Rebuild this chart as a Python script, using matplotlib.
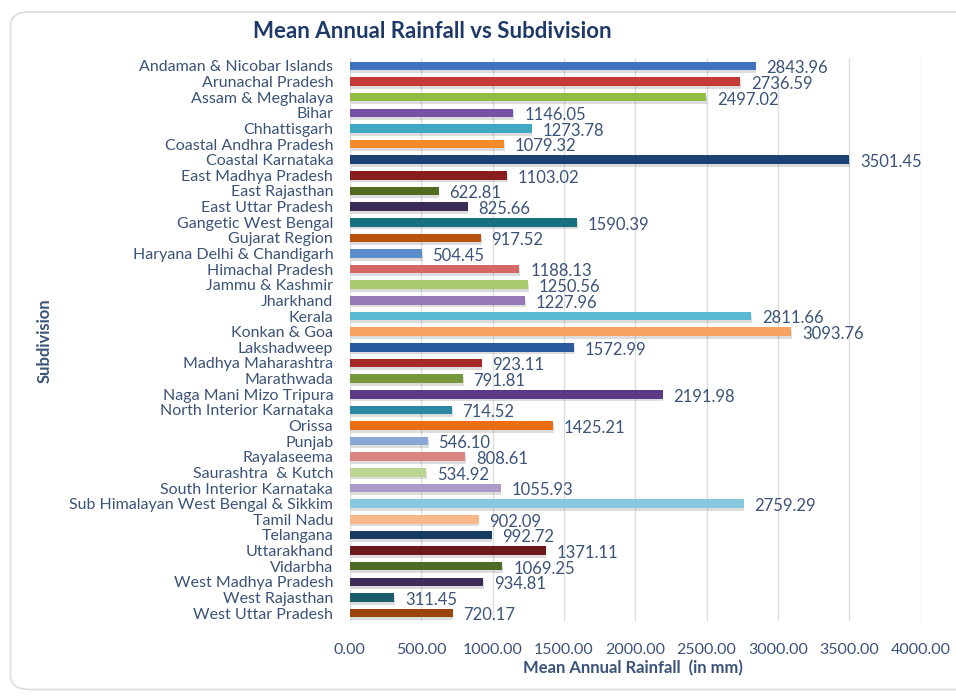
import matplotlib
matplotlib.use("Agg")
import matplotlib.pyplot as plt
import matplotlib.patheffects as pe
from matplotlib.patches import FancyBboxPatch

subdivisions = [
    "Andaman & Nicobar Islands", "Arunachal Pradesh", "Assam & Meghalaya", "Bihar",
    "Chhattisgarh", "Coastal Andhra Pradesh", "Coastal Karnataka", "East Madhya Pradesh",
    "East Rajasthan", "East Uttar Pradesh", "Gangetic West Bengal", "Gujarat Region",
    "Haryana Delhi & Chandigarh", "Himachal Pradesh", "Jammu & Kashmir", "Jharkhand",
    "Kerala", "Konkan & Goa", "Lakshadweep", "Madhya Maharashtra",
    "Marathwada", "Naga Mani Mizo Tripura", "North Interior Karnataka", "Orissa",
    "Punjab", "Rayalaseema", "Saurashtra  & Kutch", "South Interior Karnataka",
    "Sub Himalayan West Bengal & Sikkim", "Tamil Nadu", "Telangana", "Uttarakhand",
    "Vidarbha", "West Madhya Pradesh", "West Rajasthan", "West Uttar Pradesh",
]
rainfall = [
    2843.96, 2736.59, 2497.02, 1146.05, 1273.78, 1079.32, 3501.45, 1103.02,
    622.81, 825.66, 1590.39, 917.52, 504.45, 1188.13, 1250.56, 1227.96,
    2811.66, 3093.76, 1572.99, 923.11, 791.81, 2191.98, 714.52, 1425.21,
    546.10, 808.61, 534.92, 1055.93, 2759.29, 902.09, 992.72, 1371.11,
    1069.25, 934.81, 311.45, 720.17,
]
bar_colors = [
    "#3f73bf", "#c33a36", "#94bb45", "#7651a6", "#3fa9c4", "#f48a2c",
    "#1c4174", "#8a1e1e", "#4f6c1f", "#3a2b57", "#17707f", "#b8520f",
    "#5b8fcc", "#d46865", "#a9c96d", "#9579b9", "#5ab9d2", "#f7a260",
    "#2a5aa0", "#a52a27", "#76973a", "#5a3a86", "#2b88a3", "#ec6d12",
    "#88a8d6", "#d98582", "#bcd592", "#ad9ac9", "#86c8dc", "#f8b887",
    "#173a61", "#6c1a19", "#4e6a26", "#3d2c5a", "#1c5d6b", "#9b4309",
]
xticks = [0, 500, 1000, 1500, 2000, 2500, 3000, 3500, 4000]

text_col = "#3b5378"
title_col = "#1f3a68"
font = "Lato"

fig = plt.figure(figsize=(9.56, 7.0), dpi=100)
frame = FancyBboxPatch((0.011, 0.015), 1.05, 0.968,
                       boxstyle="round,pad=0,rounding_size=0.02",
                       transform=fig.transFigure, facecolor="white",
                       edgecolor="#dcdcdc", linewidth=1.2, zorder=-5)
fig.patches.append(frame)

ax = fig.add_axes([0.366, 0.113, 0.597, 0.804])
ax.set_facecolor("none")
ypos = list(range(len(subdivisions)))
bars = ax.barh(ypos, rainfall, height=0.55, color=bar_colors, zorder=3)
for b in bars:
    b.set_path_effects([pe.withSimplePatchShadow(offset=(0.5, -2.0), alpha=0.18,
                                                 shadow_rgbFace="#444444")])

# value labels
for y, v in zip(ypos, rainfall):
    ax.text(v + 75, y + 0.15, f"{v:.2f}", va="center", ha="left",
            fontsize=12, color=text_col, family=font, zorder=4)

ax.set_ylim(len(subdivisions) - 0.5, -0.5)
ax.set_xlim(0, 4000)
ax.set_yticks(ypos)
ax.set_yticklabels(subdivisions, fontsize=11.5, color=text_col, family=font)
ax.set_xticks(xticks)
ax.set_xticklabels([f"{t:.2f}" for t in xticks], fontsize=11.5, color=text_col, family=font)
ax.tick_params(axis="both", length=0)
ax.tick_params(axis="y", pad=12)
ax.tick_params(axis="x", pad=16)
ax.grid(axis="x", color="#dedede", linewidth=1, zorder=0)
for s in ax.spines.values():
    s.set_visible(False)

fig.text(0.452, 0.955, "Mean Annual Rainfall vs Subdivision", ha="center", va="center",
         fontsize=16, fontweight="bold", color=title_col, family=font)
fig.text(0.662, 0.046, "Mean Annual Rainfall  (in mm)", ha="center", va="center",
         fontsize=12, fontweight="bold", color=text_col, family=font)
fig.text(0.047, 0.514, "Subdivision", ha="center", va="center", rotation=90,
         fontsize=12, fontweight="bold", color=text_col, family=font)

fig.savefig("out.png", dpi=100)
